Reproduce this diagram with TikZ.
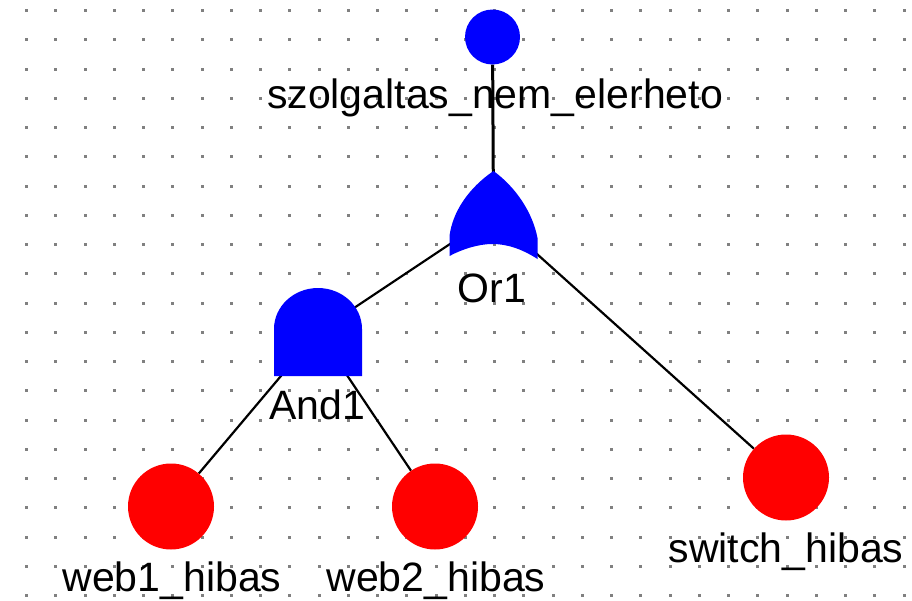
\documentclass[tikz,border=0pt]{standalone}
\usepackage{fontspec}
\setmainfont{Liberation Sans}
\usetikzlibrary{backgrounds}
\definecolor{gray}{RGB}{128,128,128}
\definecolor{gateblue}{RGB}{0,0,255}
\definecolor{eventred}{RGB}{255,0,0}
\tikzset{
	topevent/.style={circle, fill=gateblue, inner sep=0pt, minimum size=55pt},
	basicevent/.style={circle, fill=eventred, inner sep=0pt, minimum size=86pt},
	gate/.style={rectangle, inner sep=0pt, minimum size=88pt},
	gatefill/.style={fill=gateblue},
	label/.style={font=\fontsize{41}{41}\selectfont, inner sep=0pt, text=black},
	griddot/.style={fill=gray},
	edge/.style={draw=black, line width=2.2pt}
}

\begin{document}
\begin{tikzpicture}[x=1pt, y=-1pt]
	\useasboundingbox (0,0) rectangle (912,600);

	\node[topevent] (top) at (492.5,37) {};
	\node[gate] (or1) at (493.5,215) {};
	\node[gate] (and1) at (318,332) {};
	\node[basicevent] (web1) at (171,506.5) {};
	\node[basicevent] (web2) at (435,506.5) {};
	\node[basicevent] (switch) at (786,477.5) {};

	\begin{pgfonlayer}{background}
		\foreach \i in {0,...,30}
			\foreach \j in {0,...,20}
				\fill[griddot] ({25+29.25*\i},{9+29.25*\j}) rectangle +(3,3);
		\draw[edge, line width=3pt] (top) -- (or1.center);
		\draw[edge] (or1.center) -- (and1.center);
		\draw[edge] (or1.center) -- (switch);
		\draw[edge] (and1.center) -- (web1);
		\draw[edge] (and1.center) -- (web2);
	\end{pgfonlayer}

	% gate or1
	\fill[gatefill, shift={(or1.center)}] (-44,41) -- (-44,21) .. controls (-41,-3) and (-25,-27) .. (0,-44)
		.. controls (22,-28) and (39,-3) .. (44,23) -- (44,44)
		.. controls (27,33) and (12,29) .. (-1,29) .. controls (-15,29) and (-31,34) .. (-44,41) -- cycle;
	% gate and1
	\fill[gatefill, shift={(and1.center)}] (-44,44) -- (-44,-3) arc[start angle=180, end angle=0, x radius=44, y radius=-41] -- (44,44) -- cycle;

	\node[label] (toplabel) at (495,98) {szolgaltas\_nem\_elerheto};
	\node[label] (or1label) at (492,288) {Or1};
	\node[label] (and1label) at (317,405) {And1};
	\node[label] (web1label) at (172,581) {web1\_hibas};
	\node[label] (web2label) at (436,581) {web2\_hibas};
	\node[label] (switchlabel) at (786,552) {switch\_hibas};
\end{tikzpicture}
\end{document}
